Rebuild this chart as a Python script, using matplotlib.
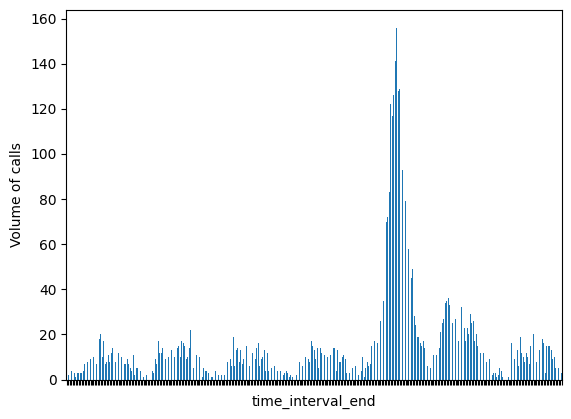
import matplotlib
matplotlib.use("Agg")
import matplotlib.pyplot as plt

# calls per time interval (left to right)
calls = [
    2, 2, 3, 4, 3, 3, 1, 3, 3, 3,
    3, 4, 7, 8, 8, 9, 9, 9, 10, 9,
    7, 12, 18, 20, 10, 17, 7, 8, 11, 8,
    12, 14, 10, 8, 9, 12, 11, 10, 8, 7,
    7, 9, 7, 5, 4, 11, 2, 5, 5, 3,
    4, 2, 1, 2, 2, 1, 0, 1, 4, 3,
    9, 7, 17, 12, 12, 14, 10, 9, 9, 10,
    11, 13, 11, 10, 12, 14, 15, 10, 17, 16,
    15, 9, 10, 14, 22, 8, 5, 6, 11, 8,
    10, 4, 1, 5, 4, 4, 3, 0, 1, 1,
    0, 4, 2, 2, 1, 2, 2, 2, 5, 8,
    7, 9, 6, 19, 6, 13, 14, 8, 13, 7,
    9, 12, 15, 10, 6, 9, 12, 10, 9, 14,
    16, 6, 9, 10, 13, 4, 12, 4, 6, 5,
    7, 6, 5, 4, 4, 4, 3, 2, 3, 4,
    3, 1, 2, 1, 0, 1, 2, 5, 8, 7,
    6, 8, 10, 9, 9, 8, 17, 15, 13, 9,
    14, 5, 14, 12, 10, 11, 10, 10, 9, 11,
    12, 14, 14, 4, 13, 8, 8, 10, 11, 9,
    3, 5, 3, 4, 5, 3, 6, 4, 2, 3,
    4, 10, 1, 5, 8, 6, 7, 15, 12, 17,
    14, 16, 20, 26, 30, 35, 55, 70, 72, 83,
    122, 117, 126, 141, 156, 128, 129, 110, 93, 85,
    79, 68, 58, 50, 45, 49, 28, 24, 19, 19,
    16, 15, 17, 14, 10, 6, 5, 5, 8, 11,
    9, 11, 12, 14, 21, 25, 27, 34, 35, 36,
    33, 29, 25, 30, 27, 22, 17, 25, 32, 26,
    23, 17, 23, 20, 29, 25, 26, 17, 20, 15,
    10, 12, 10, 12, 10, 8, 6, 9, 7, 2,
    3, 3, 1, 2, 5, 4, 1, 0, 0, 0,
    1, 6, 16, 12, 9, 8, 13, 6, 19, 12,
    10, 8, 12, 10, 7, 15, 12, 20, 14, 8,
    10, 13, 11, 18, 16, 3, 15, 15, 15, 13,
    9, 10, 5, 6, 5, 3, 3,
]
# the interval labels are blank in the reference, only tick marks show
tick_labels = [""] * len(calls)

W, H = 571, 419

fig = plt.figure(figsize=(W / 100, H / 100), dpi=100)
ax = fig.add_axes([66.252 / W, 39.4 / H, 496 / W, 369.6 / H])

positions = list(range(len(calls)))
ax.bar(positions, calls, width=0.5, color="#1f77b4")
ax.set_xlim(-0.5, len(calls) - 0.5)
ax.set_xticks(positions, tick_labels)

ax.set_xlabel("time_interval_end")
ax.set_ylabel("Volume of calls")

fig.savefig("out.png", dpi=100)
